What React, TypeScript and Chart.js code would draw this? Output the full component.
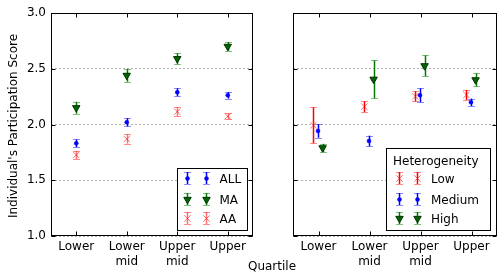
import React, { useEffect, useRef } from "react";
import { Chart, registerables } from "chart.js";
import { drawPoint } from "chart.js/helpers";

Chart.register(...registerables);

// ---------- data ----------
const quartileLabels: (string | string[])[] = ["Lower", ["Lower", "mid"], ["Upper", "mid"], "Upper"];
const yTickValues = [1.0, 1.5, 2.0, 2.5, 3.0];

const allMean = [1.831, 2.02, 2.289, 2.262];
const allErr = [0.035, 0.037, 0.036, 0.03];
const maMean = [2.15, 2.44, 2.59, 2.7];
const maErr = [0.054, 0.057, 0.05, 0.04];
const aaMean = [1.726, 1.87, 2.115, 2.073];
const aaErr = [0.037, 0.042, 0.04, 0.027];

const lowMean = [1.993, 2.16, 2.253, 2.265];
const lowErr = [0.161, 0.05, 0.046, 0.045];
const medMean = [1.942, 1.852, 2.262, 2.199];
const medErr = [0.061, 0.048, 0.063, 0.034];
const highMean = [1.79, 2.405, 2.526, 2.4];
const highErr = [0.037, 0.17, 0.094, 0.058];

const leftNames = ["ALL", "MA", "AA"];
const rightNames = ["Low", "Medium", "High"];
const rightTitle = "Heterogeneity";
const yTitle = "Individual's Participation Score";
const xTitle = "Quartile";

// ---------- styles ----------
const FONT = '12px "DejaVu Sans", sans-serif';
const sBlue = {
  pointStyle: "circle", radius: 2, rotation: 0, fill: "#0000ff", stroke: "#0000ff", borderWidth: 0.5,
  errColor: "#0000ff", capColor: "rgba(0,0,255,0.45)",
};
const sGreen = {
  pointStyle: "triangle", radius: 4.3, rotation: 180, fill: "#006400", stroke: "#003300", borderWidth: 1,
  errColor: "#007a00", capColor: "rgba(0,128,0,0.5)",
};
const sRedL = {
  pointStyle: "crossRot", radius: 4.5, rotation: 0, fill: "rgba(255,0,0,0.55)", stroke: "rgba(255,0,0,0.55)", borderWidth: 1,
  errColor: "rgba(255,0,0,0.55)", capColor: "rgba(255,0,0,0.45)",
};
const sRedR = { ...sRedL, errColor: "#ff0000" };

const rightOffsets = [-0.1, -0.01, 0.08];

function mkDataset(label: string, means: number[], errs: number[], st: any, off: number) {
  return {
    label,
    data: means.map((m, i) => ({ x: i + off, y: m })),
    errs,
    st,
    pointStyle: st.pointStyle,
    pointRadius: st.radius,
    pointRotation: st.rotation,
    rotation: st.rotation,
    backgroundColor: st.fill,
    borderColor: st.stroke,
    borderWidth: st.borderWidth,
    pointBorderWidth: st.borderWidth,
    pointHoverRadius: st.radius,
  };
}

function drawErr(ctx: CanvasRenderingContext2D, x: number, y1: number, y2: number, st: any) {
  const xc = Math.round(x) + 0.5;
  ctx.save();
  ctx.strokeStyle = st.errColor;
  ctx.lineWidth = 1.5;
  ctx.beginPath();
  ctx.moveTo(xc, y1);
  ctx.lineTo(xc, y2);
  ctx.stroke();
  ctx.strokeStyle = st.capColor;
  ctx.lineWidth = 1;
  ctx.beginPath();
  ctx.moveTo(xc - 3.5, Math.round(y1) + 0.5);
  ctx.lineTo(xc + 3.5, Math.round(y1) + 0.5);
  ctx.moveTo(xc - 3.5, Math.round(y2) + 0.5);
  ctx.lineTo(xc + 3.5, Math.round(y2) + 0.5);
  ctx.stroke();
  ctx.restore();
}

function drawMarker(ctx: CanvasRenderingContext2D, x: number, y: number, st: any) {
  ctx.save();
  ctx.fillStyle = st.fill;
  ctx.strokeStyle = st.stroke;
  ctx.lineWidth = st.borderWidth;
  drawPoint(ctx, { pointStyle: st.pointStyle, radius: st.radius, rotation: st.rotation, borderWidth: st.borderWidth } as any, x, y);
  ctx.restore();
}

const errorBarPlugin = {
  id: "errbars",
  beforeDatasetsDraw(chart: any) {
    const ctx = chart.ctx;
    const ys = chart.scales.y;
    chart.data.datasets.forEach((ds: any, i: number) => {
      const meta = chart.getDatasetMeta(i);
      meta.data.forEach((pt: any, j: number) => {
        const v = ds.data[j].y;
        const e = ds.errs[j];
        drawErr(ctx, pt.x, ys.getPixelForValue(v + e), ys.getPixelForValue(v - e), ds.st);
      });
    });
  },
};

interface LegendSpec {
  boxLeft: number; boxRight: number; boxTop: number; boxBottom: number;
  title?: string; titleX?: number; titleY?: number;
  rows: number[]; markerXs: number[]; textX: number;
  names: string[]; styles: any[];
}

function makeFramePlugin(legend: LegendSpec, extra?: (ctx: CanvasRenderingContext2D) => void) {
  return {
    id: "frame",
    afterDraw(chart: any) {
      const ctx: CanvasRenderingContext2D = chart.ctx;
      const ca = chart.chartArea;
      const xs = chart.scales.x;
      const ys = chart.scales.y;
      const L = Math.round(ca.left) + 0.5;
      const R = Math.round(ca.right) - 0.5;
      const T = Math.round(ca.top) + 0.5;
      const B = Math.round(ca.bottom) - 0.5;
      ctx.save();
      ctx.strokeStyle = "#000";
      ctx.lineWidth = 1;
      ctx.beginPath();
      quartileLabels.forEach((_, i) => {
        const x = Math.round(xs.getPixelForValue(i)) + 0.5;
        ctx.moveTo(x, T);
        ctx.lineTo(x, T + 4);
        ctx.moveTo(x, B);
        ctx.lineTo(x, B - 4);
      });
      yTickValues.forEach((v) => {
        const y = Math.round(ys.getPixelForValue(v)) + 0.5;
        ctx.moveTo(L, y);
        ctx.lineTo(L + 4, y);
        ctx.moveTo(R, y);
        ctx.lineTo(R - 4, y);
      });
      ctx.stroke();
      ctx.strokeRect(L, T, R - L, B - T);

      const bl = Math.round(ca.right - legend.boxLeft) + 0.5;
      const br = Math.round(ca.right - legend.boxRight) + 0.5;
      const bt = Math.round(ca.bottom - legend.boxTop) + 0.5;
      const bb = Math.round(ca.bottom - legend.boxBottom) + 0.5;
      ctx.fillStyle = "#fff";
      ctx.fillRect(bl, bt, br - bl, bb - bt);
      ctx.strokeStyle = "#000";
      ctx.strokeRect(bl, bt, br - bl, bb - bt);
      ctx.font = FONT;
      ctx.fillStyle = "#000";
      ctx.textBaseline = "alphabetic";
      ctx.textAlign = "left";
      if (legend.title) {
        ctx.fillText(legend.title, bl + (legend.titleX || 0), ca.bottom - (legend.titleY || 0));
      }
      legend.names.forEach((name, k) => {
        const y = Math.round(ca.bottom - legend.rows[k]);
        const st = legend.styles[k];
        legend.markerXs.forEach((mx) => {
          const x = bl + mx;
          drawErr(ctx, x, y - 6, y + 6, st);
          drawMarker(ctx, Math.round(x) + 0.5, y + 0.5, st);
        });
        ctx.fillStyle = "#000";
        ctx.font = FONT;
        ctx.fillText(name, bl + legend.textX, y + 4.5);
      });
      if (extra) extra(ctx);
      ctx.restore();
    },
  };
}

function makeConfig(datasets: any[], padLeft: number, padRight: number, yWidth: number, showY: boolean, plugin: any) {
  return {
    type: "scatter" as const,
    data: { datasets },
    options: {
      responsive: false,
      animation: false as const,
      events: [],
      layout: { padding: { left: padLeft, right: padRight, top: 13, bottom: 0 } },
      plugins: { legend: { display: false }, tooltip: { enabled: false } },
      scales: {
        x: {
          type: "linear" as const,
          min: -0.5,
          max: 3.5,
          afterBuildTicks: (s: any) => {
            s.ticks = quartileLabels.map((_, i) => ({ value: i }));
          },
          ticks: {
            callback: (v: any) => quartileLabels[Math.round(Number(v))],
            font: { family: '"DejaVu Sans", sans-serif', size: 12, lineHeight: 1.25 },
            color: "#000",
            padding: 3,
            maxRotation: 0,
            autoSkip: false,
          },
          grid: { display: false, drawTicks: false },
          border: { display: false },
          afterFit: (s: any) => {
            s.height = 43;
          },
        },
        y: {
          type: "linear" as const,
          min: 1,
          max: 3,
          afterBuildTicks: (s: any) => {
            s.ticks = yTickValues.map((v) => ({ value: v }));
          },
          ticks: {
            display: showY,
            callback: (v: any) => Number(v).toFixed(1),
            font: { family: '"DejaVu Sans", sans-serif', size: 12 },
            color: "#000",
            padding: 5,
          },
          grid: { color: "#b0b0b0", lineWidth: 1, drawTicks: false },
          border: { display: false, dash: [2, 2] },
          afterFit: (s: any) => {
            s.width = yWidth;
          },
        },
      },
    },
    plugins: [errorBarPlugin, plugin],
  };
}

export default function App() {
  const leftRef = useRef<HTMLCanvasElement>(null);
  const rightRef = useRef<HTMLCanvasElement>(null);

  useEffect(() => {
    const leftSets = [
      mkDataset(leftNames[0], allMean, allErr, sBlue, 0),
      mkDataset(leftNames[1], maMean, maErr, sGreen, 0),
      mkDataset(leftNames[2], aaMean, aaErr, sRedL, 0),
    ];
    const rightSets = [
      mkDataset(rightNames[0], lowMean, lowErr, sRedR, rightOffsets[0]),
      mkDataset(rightNames[1], medMean, medErr, sBlue, rightOffsets[1]),
      mkDataset(rightNames[2], highMean, highErr, sGreen, rightOffsets[2]),
    ];
    const leftPlugin = makeFramePlugin(
      {
        boxLeft: 76, boxRight: 6, boxTop: 68, boxBottom: 6,
        rows: [58, 37, 18], markerXs: [9, 28], textX: 42,
        names: leftNames, styles: [sBlue, sGreen, sRedL],
      },
      (ctx) => {
        ctx.fillStyle = "#000";
        ctx.font = FONT;
        ctx.textAlign = "center";
        ctx.textBaseline = "alphabetic";
        ctx.fillText(xTitle, 272, 270);
        ctx.save();
        ctx.translate(16.5, 126);
        ctx.rotate(-Math.PI / 2);
        ctx.fillText(yTitle, 0, 0);
        ctx.restore();
      }
    );
    const rightPlugin = makeFramePlugin({
      boxLeft: 111, boxRight: 7, boxTop: 88, boxBottom: 6,
      title: rightTitle, titleX: 6.5, titleY: 71.5,
      rows: [58, 37, 18], markerXs: [12, 30], textX: 44.5,
      names: rightNames, styles: [sRedR, sBlue, sGreen],
    });
    const c1 = new Chart(leftRef.current as HTMLCanvasElement, makeConfig(leftSets, 0, 250, 51, true, leftPlugin) as any);
    const c2 = new Chart(rightRef.current as HTMLCanvasElement, makeConfig(rightSets, 293, 6, 0, false, rightPlugin) as any);
    return () => {
      c1.destroy();
      c2.destroy();
    };
  }, []);

  const cs: React.CSSProperties = { position: "absolute", left: 0, top: 0, width: 503, height: 279 };
  return (
    <div style={{ position: "fixed", left: 0, top: 0, width: 503, height: 279, background: "#fff" }}>
      <canvas ref={leftRef} width={503} height={279} style={cs} />
      <canvas ref={rightRef} width={503} height={279} style={cs} />
    </div>
  );
}
